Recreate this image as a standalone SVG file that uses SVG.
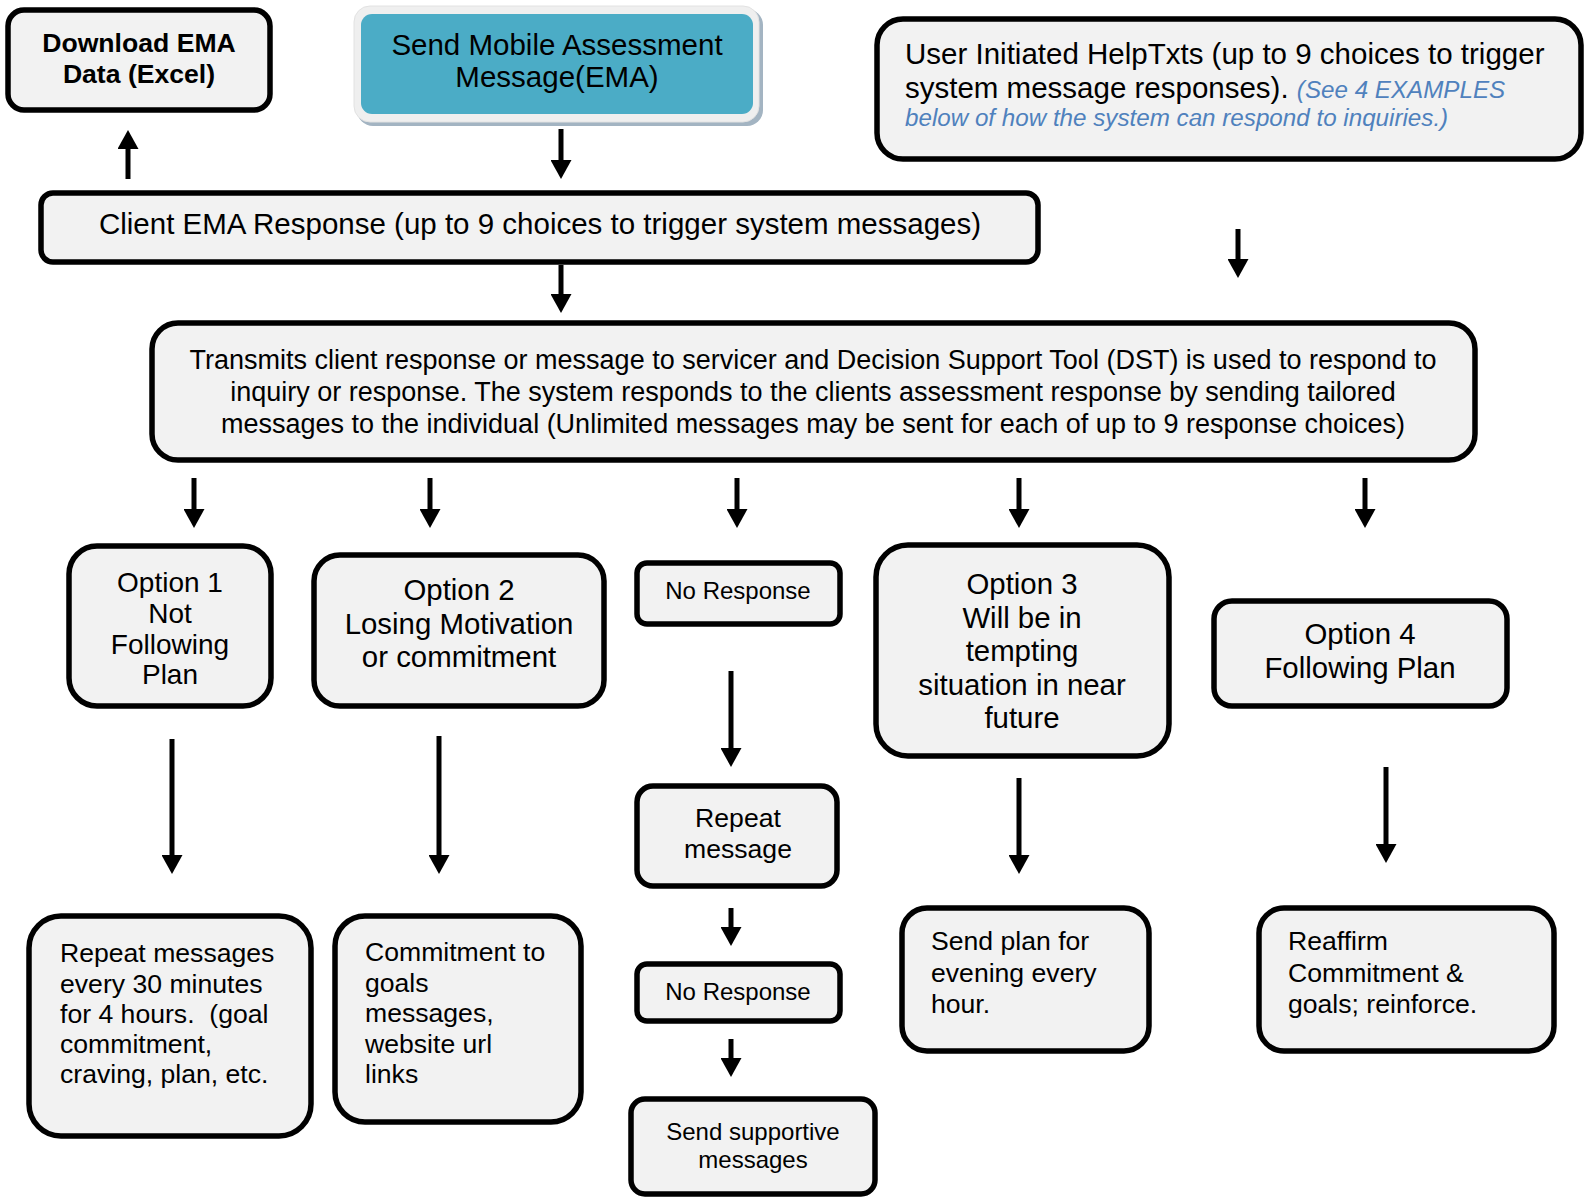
<svg xmlns="http://www.w3.org/2000/svg" width="1585" height="1197" viewBox="0 0 1585 1197">
<style>
.box{fill:#f2f2f2;stroke:#000;stroke-width:5.5}
text{font-family:"Liberation Sans",Arial,sans-serif;fill:#000}
.c{text-anchor:middle}
.f29{font-size:29.4px}
.f28{font-size:28px}
.f27{font-size:27px}
.f26{font-size:26.6px}
.f24{font-size:24px}
.bold{font-weight:bold}
.blue{fill:#4f81bd;font-style:italic;font-size:24.2px}
.arr{stroke:#000;stroke-width:5;fill:none;marker-end:url(#ah)}
</style>
<defs>
<marker id="ah" markerUnits="userSpaceOnUse" markerWidth="20" markerHeight="21" refX="9" refY="10.5" orient="auto">
<path d="M0,0 L19,10.5 L0,21 Z" fill="#000"/>
</marker>
</defs>

<g id="download">
<rect class="box" x="8" y="10" width="262" height="100" rx="16"/>
<text class="c f26 bold" x="139" y="52">Download EMA<tspan x="139" y="83">Data (Excel)</tspan></text>
</g>

<g id="send-ema">
<rect x="357" y="9" width="406" height="117" rx="16" fill="#a3b4c2"/>
<rect x="354" y="6" width="405" height="116" rx="16" fill="#efefef" stroke="#e2e2e2" stroke-width="1"/>
<rect x="361" y="14" width="392" height="100" rx="11" fill="#4bacc6"/>
<text class="c" x="557" y="55" style="font-size:29.5px">Send Mobile Assessment<tspan x="557" y="87">Message(EMA)</tspan></text>
</g>

<g id="helptxts">
<rect class="box" x="877" y="19" width="704" height="140" rx="26"/>
<text x="905" y="64" style="font-size:29.5px">User Initiated HelpTxts (up to 9 choices to trigger<tspan x="905" y="98">system message responses). </tspan><tspan class="blue">(See 4 EXAMPLES</tspan><tspan class="blue" x="905" y="126">below of how the system can respond to inquiries.)</tspan></text>
</g>

<g id="client-response">
<rect class="box" x="41" y="193" width="997" height="69" rx="12"/>
<text class="c" x="540" y="234" style="font-size:29.5px">Client EMA Response (up to 9 choices to trigger system messages)</text>
</g>

<g id="transmits">
<rect class="box" x="152" y="323" width="1323" height="137" rx="26"/>
<text class="c f27" x="813" y="369">Transmits client response or message to servicer and Decision Support Tool (DST) is used to respond to<tspan x="813" y="401">inquiry or response. The system responds to the clients assessment response by sending tailored</tspan><tspan x="813" y="433">messages to the individual (Unlimited messages may be sent for each of up to 9 response choices)</tspan></text>
</g>

<g id="option1">
<rect class="box" x="69" y="546" width="202" height="160" rx="28"/>
<text class="c f28" x="170" y="592">Option 1<tspan x="170" y="623">Not</tspan><tspan x="170" y="654">Following</tspan><tspan x="170" y="684">Plan</tspan></text>
</g>

<g id="option2">
<rect class="box" x="314" y="555" width="290" height="151" rx="26"/>
<text class="c f29" x="459" y="600">Option 2<tspan x="459" y="634">Losing Motivation</tspan><tspan x="459" y="667">or commitment</tspan></text>
</g>

<g id="no-response-1">
<rect class="box" x="637" y="563" width="203" height="61" rx="10"/>
<text class="c f24" x="738" y="599">No Response</text>
</g>

<g id="option3">
<rect class="box" x="876" y="545" width="293" height="211" rx="32"/>
<text class="c f29" x="1022" y="594">Option 3<tspan x="1022" y="628">Will be in</tspan><tspan x="1022" y="661">tempting</tspan><tspan x="1022" y="695">situation in near</tspan><tspan x="1022" y="728">future</tspan></text>
</g>

<g id="option4">
<rect class="box" x="1214" y="601" width="293" height="105" rx="18"/>
<text class="c f29" x="1360" y="644">Option 4<tspan x="1360" y="678">Following Plan</tspan></text>
</g>

<g id="repeat-message">
<rect class="box" x="637" y="786" width="200" height="100" rx="16"/>
<text class="c f26" x="738" y="827">Repeat<tspan x="738" y="858">message</tspan></text>
</g>

<g id="no-response-2">
<rect class="box" x="637" y="964" width="203" height="57" rx="10"/>
<text class="c f24" x="738" y="1000">No Response</text>
</g>

<g id="send-supportive">
<rect class="box" x="631" y="1099" width="244" height="95" rx="14"/>
<text class="c f24" x="753" y="1140">Send supportive<tspan x="753" y="1168">messages</tspan></text>
</g>

<g id="repeat-messages">
<rect class="box" x="29" y="916" width="282" height="220" rx="32"/>
<text class="f26" x="60" y="962">Repeat messages<tspan x="60" y="993">every 30 minutes</tspan><tspan x="60" y="1023">for 4 hours.&#160; (goal</tspan><tspan x="60" y="1053">commitment,</tspan><tspan x="60" y="1083">craving, plan, etc.</tspan></text>
</g>

<g id="commitment">
<rect class="box" x="335" y="916" width="246" height="206" rx="30"/>
<text class="f26" x="365" y="961">Commitment to<tspan x="365" y="992">goals</tspan><tspan x="365" y="1022">messages,</tspan><tspan x="365" y="1053">website url</tspan><tspan x="365" y="1083">links</tspan></text>
</g>

<g id="send-plan">
<rect class="box" x="902" y="908" width="247" height="143" rx="25"/>
<text class="f26" x="931" y="950">Send plan for<tspan x="931" y="982">evening every</tspan><tspan x="931" y="1013">hour.</tspan></text>
</g>

<g id="reaffirm">
<rect class="box" x="1259" y="908" width="295" height="143" rx="25"/>
<text class="f26" x="1288" y="950">Reaffirm<tspan x="1288" y="982">Commitment &amp;</tspan><tspan x="1288" y="1013">goals; reinforce.</tspan></text>
</g>

<g id="connectors">
<line class="arr" x1="128" y1="179" x2="128" y2="140"/>
<line class="arr" x1="561" y1="129" x2="561" y2="169"/>
<line class="arr" x1="1238" y1="229" x2="1238" y2="268"/>
<line class="arr" x1="561" y1="265" x2="561" y2="303"/>
<line class="arr" x1="194" y1="478" x2="194" y2="518"/>
<line class="arr" x1="430" y1="478" x2="430" y2="518"/>
<line class="arr" x1="737" y1="478" x2="737" y2="518"/>
<line class="arr" x1="1019" y1="478" x2="1019" y2="518"/>
<line class="arr" x1="1365" y1="478" x2="1365" y2="518"/>
<line class="arr" x1="172" y1="739" x2="172" y2="864"/>
<line class="arr" x1="439" y1="736" x2="439" y2="864"/>
<line class="arr" x1="731" y1="671" x2="731" y2="757"/>
<line class="arr" x1="731" y1="908" x2="731" y2="936"/>
<line class="arr" x1="731" y1="1039" x2="731" y2="1067"/>
<line class="arr" x1="1019" y1="778" x2="1019" y2="864"/>
<line class="arr" x1="1386" y1="767" x2="1386" y2="853"/>
</g>
</svg>
